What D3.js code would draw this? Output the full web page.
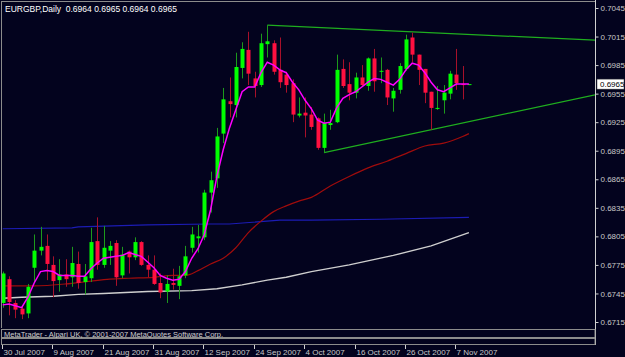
<!DOCTYPE html>
<html>
<head>
<meta charset="utf-8">
<script src="https://cdn.jsdelivr.net/npm/d3@7/dist/d3.min.js"></script>
<style>
body { margin:0; background:#03031e; }
svg { display:block; font-family:"Liberation Sans", Arial, sans-serif; }
</style>
</head>
<body>
<svg id="chart" width="625" height="357"></svg>
<script>
// EURGBP daily, 30 Jul 2007 .. 9 Nov 2007 (one entry per bar)
var open = [0.6735,0.6760,0.6735,0.6729,0.6724,0.6772,0.6790,0.6795,0.6775,0.6759,
0.6765,0.6762,0.6776,0.6757,0.6761,0.6800,0.6775,0.6790,0.6798,0.6764,
0.6789,0.6783,0.6799,0.6775,0.6770,0.6756,0.6747,0.6756,0.6753,0.6764,
0.6793,0.6803,0.6804,0.6851,0.6866,0.6913,0.6947,0.6943,0.6982,0.7001,
0.6971,0.6964,0.7007,0.7008,0.6980,0.6975,0.6966,0.6932,0.6935,0.6933,
0.6929,0.6898,0.6922,0.6925,0.6981,0.6965,0.6956,0.6972,0.6963,0.6992,
0.6978,0.6980,0.6950,0.6959,0.6981,0.7014,0.6996,0.6981,0.6957,0.6939,
0.6948,0.6955,0.6975,0.6965,0.6964];
var high = [0.6768,0.6763,0.6738,0.6732,0.6755,0.6807,0.6815,0.6807,0.6784,0.6781,
0.6781,0.6794,0.6789,0.6776,0.6814,0.6825,0.6816,0.6800,0.6801,0.6794,
0.6790,0.6804,0.6800,0.6785,0.6785,0.6766,0.6764,0.6771,0.6774,0.6795,
0.6815,0.6817,0.6854,0.6873,0.6919,0.6961,0.6972,0.6998,0.7009,0.7020,
0.6978,0.7018,0.7027,0.7011,0.7014,0.6978,0.6970,0.6951,0.6951,0.6941,
0.6930,0.6934,0.6938,0.6996,0.6991,0.6988,0.6977,0.6985,0.6993,0.7002,
0.6993,0.6981,0.6961,0.6987,0.7017,0.7019,0.6996,0.6981,0.6957,0.6963,
0.6964,0.6979,0.7002,0.6984,0.6965];
var low = [0.6730,0.6722,0.6719,0.6718,0.6719,0.6756,0.6785,0.6759,0.6741,0.6747,
0.6752,0.6752,0.6750,0.6744,0.6757,0.6770,0.6772,0.6775,0.6753,0.6761,
0.6766,0.6780,0.6774,0.6762,0.6754,0.6740,0.6735,0.6749,0.6739,0.6761,
0.6788,0.6788,0.6801,0.6830,0.6856,0.6903,0.6930,0.6930,0.6971,0.6964,
0.6951,0.6962,0.6993,0.6975,0.6961,0.6956,0.6925,0.6930,0.6909,0.6917,
0.6896,0.6893,0.6917,0.6924,0.6961,0.6948,0.6950,0.6963,0.6958,0.6957,
0.6966,0.6943,0.6936,0.6955,0.6979,0.6988,0.6964,0.6945,0.6917,0.6938,
0.6934,0.6949,0.6959,0.6949,0.6964];
var close = [0.6766,0.6736,0.6728,0.6723,0.6752,0.6790,0.6794,0.6776,0.6758,0.6765,
0.6760,0.6777,0.6756,0.6763,0.6799,0.6775,0.6793,0.6795,0.6762,0.6786,
0.6783,0.6799,0.6775,0.6770,0.6755,0.6746,0.6755,0.6754,0.6763,0.6784,
0.6807,0.6805,0.6851,0.6864,0.6910,0.6949,0.6944,0.6983,0.7002,0.6976,
0.6963,0.7008,0.7010,0.6978,0.6967,0.6964,0.6933,0.6934,0.6932,0.6920,
0.6898,0.6924,0.6924,0.6980,0.6963,0.6956,0.6972,0.6964,0.6992,0.6968,
0.6979,0.6951,0.6958,0.6984,0.7012,0.6996,0.6980,0.6956,0.6940,0.6940,
0.6956,0.6976,0.6966,0.6964,0.6965];

// fast moving average (magenta), one value per bar
var maFast = [0.6733,0.6734,0.6732,0.6730,0.6741,0.6756,0.6768,0.6769,0.6768,0.6764,
0.6764,0.6764,0.6763,0.6763,0.6771,0.6777,0.6782,0.6783,0.6784,0.6785,
0.6788,0.6786,0.6784,0.6778,0.6772,0.6764,0.6761,0.6759,0.6760,0.6768,
0.6782,0.6792,0.6807,0.6833,0.6868,0.6896,0.6919,0.6938,0.6957,0.6962,
0.6962,0.6977,0.6988,0.6985,0.6980,0.6977,0.6967,0.6959,0.6948,0.6939,
0.6927,0.6924,0.6925,0.6940,0.6950,0.6954,0.6957,0.6962,0.6967,0.6971,
0.6970,0.6967,0.6964,0.6970,0.6980,0.6987,0.6985,0.6977,0.6967,0.6959,
0.6957,0.6961,0.6965,0.6965,0.6965];

// slow averages read at some bars: [bar, price]
var maMid = [[0,0.6753],[5,0.6753],[10,0.6755],[14,0.6758],[17,0.6760],[20,0.6761],
[24,0.6762],[27,0.6764],[29,0.6764],[31,0.6769],[33,0.6776],[35,0.6782],[37,0.6793],
[39,0.6809],[41,0.6821],[43,0.6831],[45,0.6837],[47,0.6842],[49,0.6846],[52,0.6858],
[55,0.6868],[58,0.6877],[61,0.6884],[64,0.6892],[67,0.6900],[70,0.6903],[73,0.6910],[74,0.6913]];
var maBlue = [[0,0.6813],[11,0.6814],[12,0.6815],[23,0.6817],[33,0.6818],[36,0.6818],
[44,0.6822],[49,0.6822],[60,0.6823],[74,0.6825]];
var maSlow = [[0,0.6740],[3,0.6741],[8,0.6742],[12,0.6744],[16,0.6745],[23,0.6747],
[30,0.6748],[34,0.6750],[38,0.6754],[42,0.6759],[45,0.6762],[49,0.6768],[55,0.6775],
[62,0.6785],[68,0.6795],[74,0.6809]];

// trend lines: two anchor points each, drawn as rays to the right
var upperTrend = [[42,0.7027],[65,0.7020]];
var lowerTrend = [[51,0.6893],[68,0.6917]];

var priceTicks = [0.7045,0.7015,0.6985,0.6955,0.6925,0.6895,0.6865,0.6835,0.6805,0.6775,0.6745,0.6715];
var dateTicks = [0,8,16,24,32,40,48,56,64,72];
var dateLabels = ["30 Jul 2007","9 Aug 2007","21 Aug 2007","31 Aug 2007","12 Sep 2007",
                  "24 Sep 2007","4 Oct 2007","16 Oct 2007","26 Oct 2007","7 Nov 2007"];
var lastPrice = 0.6965;
var title = "EURGBP,Daily  0.6964 0.6965 0.6964 0.6965";

var plotL = 2, plotR = 595, plotT = 2, plotB = 328;
var bullColor = "#00ff00", bearColor = "#ff1040";
var bullWick = "#1c9a1c", bearWick = "#a8102a";

var svg = d3.select("#chart");

var x = d3.scaleLinear().domain([0, 74]).range([2.7, 468.9]);
var y = d3.scaleLinear().domain([0.6715, 0.7045]).range([322, 8]);

svg.append("rect").attr("width",625).attr("height",357).attr("fill","#03031e");

svg.append("clipPath").attr("id","plot")
   .append("rect").attr("x",plotL).attr("y",plotT).attr("width",plotR-plotL).attr("height",plotB-plotT);

var g = svg.append("g").attr("clip-path","url(#plot)");

var bars = d3.range(open.length);

// lines first (indicators)
var lineIdx = d3.line().x(function(d){ return x(d[0]); }).y(function(d){ return y(d[1]); });

g.append("path").datum(maBlue).attr("d", lineIdx)
 .attr("fill","none").attr("stroke","#1c1cb4").attr("stroke-width",1.2);

g.append("path").datum(maSlow).attr("d", lineIdx)
 .attr("fill","none").attr("stroke","#cfcfcf").attr("stroke-width",1.4);

g.append("path").datum(maMid).attr("d", lineIdx.curve(d3.curveMonotoneX))
 .attr("fill","none").attr("stroke","#a00c0c").attr("stroke-width",1.2);
lineIdx.curve(d3.curveLinear);

function ray(pts){
  var x0 = x(pts[0][0]), y0 = y(pts[0][1]);
  var x1 = x(pts[1][0]), y1 = y(pts[1][1]);
  var k = (y1 - y0) / (x1 - x0);
  return [[x0, y0], [plotR, y0 + k * (plotR - x0)]];
}
g.selectAll("line.trend")
 .data([ray(upperTrend), ray(lowerTrend)])
 .enter().append("line")
 .attr("class","trend")
 .attr("x1", function(d){ return d[0][0]; })
 .attr("y1", function(d){ return d[0][1]; })
 .attr("x2", function(d){ return d[1][0]; })
 .attr("y2", function(d){ return d[1][1]; })
 .attr("stroke","#1fae1f").attr("stroke-width",1.2);

// candles
g.selectAll("line.wick")
 .data(bars).enter().append("line")
 .attr("class","wick")
 .attr("x1", function(i){ return Math.round(x(i)) + 0.5; })
 .attr("x2", function(i){ return Math.round(x(i)) + 0.5; })
 .attr("y1", function(i){ return y(high[i]); })
 .attr("y2", function(i){ return y(low[i]); })
 .attr("stroke", function(i){ return close[i] >= open[i] ? bullWick : bearWick; })
 .attr("stroke-width",1);

g.selectAll("rect.body")
 .data(bars).enter().append("rect")
 .attr("class","body")
 .attr("x", function(i){ return Math.round(x(i)) - 1.5; })
 .attr("width", 4)
 .attr("y", function(i){ return y(Math.max(open[i], close[i])); })
 .attr("height", function(i){ return Math.max(1, Math.abs(y(open[i]) - y(close[i]))); })
 .attr("fill", function(i){ return close[i] >= open[i] ? bullColor : bearColor; });

// fast MA on top
g.append("path").datum(bars)
 .attr("d", d3.line().x(function(i){ return x(i); }).y(function(i){ return y(maFast[i]); }))
 .attr("fill","none").attr("stroke","#ff00ff").attr("stroke-width",1.5);

// frame
svg.append("line").attr("x1",1.5).attr("x2",1.5).attr("y1",plotT).attr("y2",plotB).attr("stroke","#8c8c8c");
svg.append("line").attr("x1",plotR+0.5).attr("x2",plotR+0.5).attr("y1",0).attr("y2",345).attr("stroke","#d0d0d0");
svg.append("line").attr("x1",1).attr("x2",plotR).attr("y1",1.5).attr("y2",1.5).attr("stroke","#8c8c8c");

// price axis
var pa = svg.append("g").attr("transform","translate(" + (plotR+0.5) + ",0)");
pa.call(d3.axisRight(y).tickValues(priceTicks).tickSize(3).tickFormat(d3.format(".4f")));
pa.select(".domain").remove();
pa.selectAll("line").attr("stroke","#d0d0d0");
pa.selectAll("text").attr("fill","#c8c8c8").attr("font-size","8px").attr("x",5)
  .attr("font-family","Liberation Sans, Arial, sans-serif");

// current price box
svg.append("rect").attr("x",597).attr("y",y(lastPrice)-5).attr("width",27).attr("height",10)
   .attr("fill","#ffffff").attr("stroke","#404040").attr("stroke-width",0.5);
svg.append("text").attr("x",600).attr("y",y(lastPrice)+3).attr("fill","#000000")
   .attr("font-size","8px").text(d3.format(".4f")(lastPrice));

// title
svg.append("text").attr("x",5).attr("y",12).attr("fill","#ffffff").attr("font-size","8.5px")
   .attr("xml:space","preserve").style("white-space","pre").text(title);

// lower panels
svg.append("rect").attr("x",1.5).attr("y",329.5).attr("width",plotR-1.5).attr("height",8)
   .attr("fill","none").attr("stroke","#8c8c8c");
svg.append("text").attr("x",4).attr("y",336.5).attr("fill","#cfcfcf").attr("font-size","7.5px")
   .text("MetaTrader - Alpari UK, \u00a9 2001-2007 MetaQuotes Software Corp.");
svg.append("rect").attr("x",1.5).attr("y",338.5).attr("width",plotR-1.5).attr("height",6)
   .attr("fill","none").attr("stroke","#8c8c8c");

// date axis
var da = svg.append("g").attr("transform","translate(0,345)");
da.selectAll("line").data(dateTicks).enter().append("line")
  .attr("x1", function(d){ return Math.round(x(d)) - 0.5; })
  .attr("x2", function(d){ return Math.round(x(d)) - 0.5; })
  .attr("y1",0).attr("y2",4).attr("stroke","#d0d0d0");
da.selectAll("text").data(dateTicks).enter().append("text")
  .attr("x", function(d){ return Math.round(x(d)) + 0.5; })
  .attr("y", 10)
  .attr("fill","#c8c8c8").attr("font-size","8px")
  .text(function(d, i){ return dateLabels[i]; });
</script>
</body>
</html>
